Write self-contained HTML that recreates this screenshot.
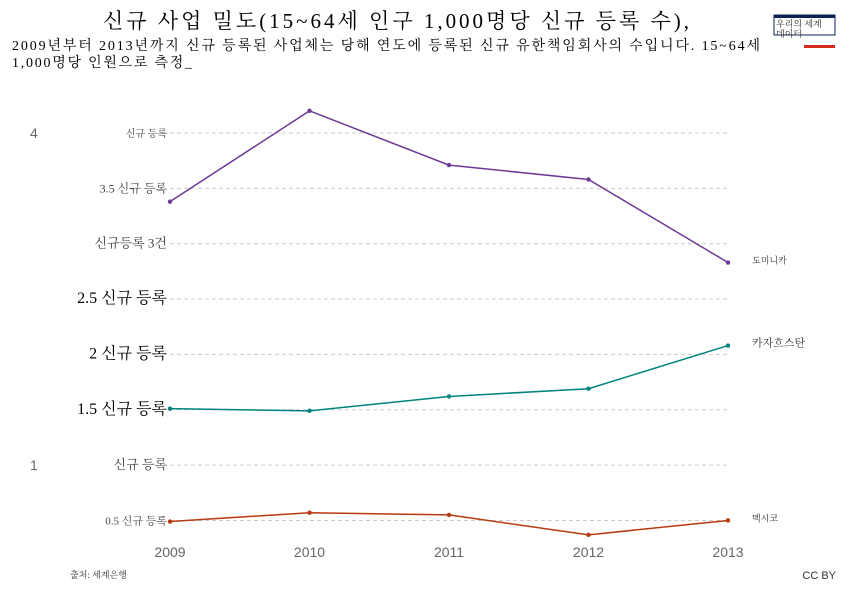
<!DOCTYPE html>
<html><head><meta charset="utf-8"><style>
body{margin:0;background:#fff;width:850px;height:600px;overflow:hidden;font-family:"Liberation Serif","Noto Serif CJK SC",serif}
svg text{font-family:"Liberation Serif","Noto Serif CJK SC",serif}
svg text.sans{font-family:"Liberation Sans","Noto Sans CJK SC",sans-serif}
</style></head><body>
<svg width="850" height="600">
<text x="103" y="28" font-size="21" textLength="586" lengthAdjust="spacing">신규 사업 밀도(15~64세 인구 1,000명당 신규 등록 수),</text>
<text x="12" y="50" font-size="14" textLength="748" lengthAdjust="spacing">2009년부터 2013년까지 신규 등록된 사업체는 당해 연도에 등록된 신규 유한책임회사의 수입니다. 15~64세</text>
<text x="12" y="67" font-size="14" textLength="180" lengthAdjust="spacing">1,000명당 인원으로 측정_</text>
<g>
<rect x="774" y="15" width="61" height="20" fill="#fff" stroke="#0a2352" stroke-width="1"/>
<rect x="774" y="15" width="61" height="3" fill="#0a2352"/>
<text x="776" y="27" font-size="9" fill="#333">우리의 세계</text>
<text x="776" y="37" font-size="9" fill="#333">데이터</text>
<rect x="804" y="45" width="31" height="3" fill="#d42b1e"/>
</g>
<g id="grid"></g><g id="ylab"></g><g id="xlab"></g><g id="series"></g>
<text x="70" y="578" font-size="9" fill="#333">출처: 세계은행</text>
<text x="836" y="579" font-size="11" text-anchor="end" fill="#333" class="sans">CC BY</text>
</svg>
<script>
const years=[2009,2010,2011,2012,2013];
const yTicks=[0.5,1,1.5,2,2.5,3,3.5,4];
const yTickLabels=["0.5 신규 등록","신규 등록","1.5 신규 등록","2 신규 등록","2.5 신규 등록","신규등록 3건","3.5 신규 등록","신규 등록"];
const countries=["도미니카","카자흐스탄","멕시코"];
const colors=["#6d3a96","#00847e","#b83a10"];
const dominica=[3.38,4.20,3.71,3.58,2.83];
const kazakhstan=[1.51,1.49,1.62,1.69,2.08];
const mexico=[0.49,0.57,0.55,0.37,0.50];
const seriesVals=[dominica,kazakhstan,mexico];
const NS="http://www.w3.org/2000/svg";
const x=i=>170+i*139.5;
const y=v=>133+(4-v)*110.7;
function mk(t,a,p){const e=document.createElementNS(NS,t);for(const k in a)e.setAttribute(k,a[k]);p.appendChild(e);return e;}
const g=document.getElementById('grid'),yl=document.getElementById('ylab'),xl=document.getElementById('xlab'),sg=document.getElementById('series');
const sizes=[11,13,16,16,16,13,12,10];
yTicks.forEach((v,i)=>{
 const l=mk('line',{x1:170,x2:728,y1:y(v),y2:y(v),stroke:'#ccc','stroke-dasharray':'4,3'},g);
 
 
 const t=mk('text',{x:167,y:y(v)+4,'font-size':sizes[i],'text-anchor':'end',fill:sizes[i]>14?'#000':'#444'},yl);
 t.textContent=yTickLabels[i];
 
 
});
const b4=mk('text',{x:30,y:y(4)+5,'font-size':14,fill:'#666',class:'sans'},yl);b4.textContent='4';


const b1=mk('text',{x:30,y:y(1)+5,'font-size':14,fill:'#666',class:'sans'},yl);b1.textContent='1';


years.forEach((yr,i)=>{
 const t=mk('text',{x:x(i),y:557,'font-size':14,'text-anchor':'middle',fill:'#666',class:'sans'},xl);
 t.textContent=yr;
 
 
});
seriesVals.forEach((vals,s)=>{
 const p=mk('polyline',{points:vals.map((v,i)=>x(i)+','+y(v)).join(' '),fill:'none',stroke:colors[s],'stroke-width':1.5},sg);
 
 
 vals.forEach((v,i)=>{
  const c=mk('circle',{cx:x(i),cy:y(v),r:2.2,fill:colors[s]},sg);
  
  
 });
 const t=mk('text',{x:752,y:y(vals[4])+1,'font-size':s==1?11:9,fill:'#333'},sg);
 t.textContent=countries[s];
 
 
});
</script>
</body></html>
